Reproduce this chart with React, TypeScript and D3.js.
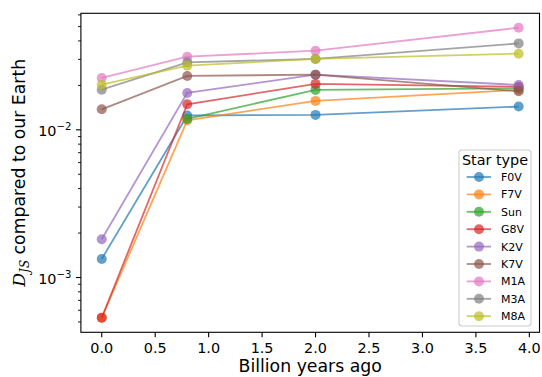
import React from "react";
import * as d3 from "d3";

const years = [0, 0.8, 2.0, 3.9];
const seriesNames = ["F0V", "F7V", "Sun", "G8V", "K2V", "K7V", "M1A", "M3A", "M8A"];
const F0V = [0.001336, 0.0125, 0.01262, 0.01437];
const F7V = [0.000534, 0.0116, 0.0157, 0.01864];
const Sun = [null, 0.01186, 0.01864, 0.0191];
const G8V = [0.000534, 0.0149, 0.02046, 0.0196];
const K2V = [0.001815, 0.01778, 0.02364, 0.02014];
const K7V = [0.01377, 0.02317, 0.02364, 0.01823];
const M1A = [0.02244, 0.03126, 0.03434, 0.0491];
const M3A = [0.0187, 0.02864, 0.0302, 0.03847];
const M8A = [0.0202, 0.02719, 0.0302, 0.03278];
const seriesValues: (number | null)[][] = [F0V, F7V, Sun, G8V, K2V, K7V, M1A, M3A, M8A];
const colors = ["#1f77b4", "#ff7f0e", "#2ca02c", "#d62728", "#9467bd", "#8c564b", "#e377c2", "#7f7f7f", "#bcbd22"];
const xTicks = [0, 0.5, 1.0, 1.5, 2.0, 2.5, 3.0, 3.5, 4.0];
const yMajor = [1e-3, 1e-2];
const yMajorExp = ["−3", "−2"];

const W = 542, H = 377;
const L = 80.9, R = 539.5, T = 13.3, B = 332.3;
const FONT = "DejaVu Sans, sans-serif";

export default function App() {
  const x = d3.scaleLinear().domain([-0.195, 4.095]).range([L, R]);
  const y = d3.scaleLog().domain([Math.pow(10, -3.371), Math.pow(10, -1.211)]).range([B, T]);
  const [y0, y1] = y.domain();
  const minor: number[] = [];
  for (let e = -4; e <= -1; e++) {
    for (let m = 2; m <= 9; m++) {
      const v = m * Math.pow(10, e);
      if (v >= y0 && v <= y1) minor.push(v);
    }
  }
  const line = d3
    .line<[number, number | null]>()
    .defined((d) => d[1] != null)
    .x((d) => x(d[0]))
    .y((d) => y(d[1] as number));

  const legX0 = 459, legX1 = 531, legY0 = 150, legY1 = 326;
  const rowY0 = 177, rowStep = 17.4;
  const alpha = 0.7;

  return (
    <svg width={W} height={H} style={{ position: "absolute", left: 0, top: 0 }} fontFamily={FONT}>
      <rect x={0} y={0} width={W} height={H} fill="#fff" />
      {/* data */}
      {seriesValues.map((vals, i) => {
        const pts = years.map((yr, j) => [yr, vals[j]] as [number, number | null]);
        return (
          <g key={seriesNames[i]}>
            <path d={line(pts) || ""} fill="none" stroke={colors[i]} strokeWidth={1.8} strokeOpacity={alpha} />
            {pts
              .filter((p) => p[1] != null)
              .map((p, j) => (
                <circle key={j} cx={x(p[0])} cy={y(p[1] as number)} r={5} fill={colors[i]} fillOpacity={alpha} />
              ))}
          </g>
        );
      })}
      {/* spines */}
      <rect x={L} y={T} width={R - L} height={B - T} fill="none" stroke="#000" strokeWidth={1.1} />
      {/* x ticks */}
      {xTicks.map((t) => (
        <g key={t}>
          <line x1={x(t)} x2={x(t)} y1={B} y2={B + 5} stroke="#000" strokeWidth={1.1} />
          <text x={x(t)} y={B + 20.5} fontSize={14.4} textAnchor="middle" fill="#000">
            {t.toFixed(1)}
          </text>
        </g>
      ))}
      {/* y ticks */}
      {minor.map((v) => (
        <line key={v} x1={L - 2.9} x2={L} y1={y(v)} y2={y(v)} stroke="#000" strokeWidth={0.9} />
      ))}
      {yMajor.map((v, i) => (
        <g key={v}>
          <line x1={L - 5} x2={L} y1={y(v)} y2={y(v)} stroke="#000" strokeWidth={1.1} />
          <text x={L - 9.5} y={y(v) + 6} fontSize={14.4} textAnchor="end" fill="#000">
            10
            <tspan fontSize={10.1} dy={-5.5}>{yMajorExp[i]}</tspan>
          </text>
        </g>
      ))}
      {/* axis labels */}
      <text x={(L + R) / 2} y={372} fontSize={17.3} textAnchor="middle" fill="#000">
        Billion years ago
      </text>
      <text transform={`translate(25,${(T + B) / 2}) rotate(-90)`} fontSize={17.3} textAnchor="middle" fill="#000">
        <tspan fontFamily="DejaVu Serif, serif" fontStyle="italic">D</tspan>
        <tspan fontSize={12} dy={3.5} fontFamily="DejaVu Serif, serif" fontStyle="italic">JS</tspan>
        <tspan dy={-3.5}> compared to our Earth</tspan>
      </text>
      {/* legend */}
      <rect x={legX0} y={legY0} width={legX1 - legX0} height={legY1 - legY0} rx={3} fill="#fff" fillOpacity={0.8} stroke="#cccccc" strokeWidth={1.1} />
      <text x={(legX0 + legX1) / 2} y={165} fontSize={14.4} textAnchor="middle" fill="#000">
        Star type
      </text>
      {seriesNames.map((n, i) => {
        const cy = rowY0 + i * rowStep;
        return (
          <g key={n}>
            <line x1={466.7} x2={491} y1={cy} y2={cy} stroke={colors[i]} strokeWidth={1.8} strokeOpacity={alpha} />
            <circle cx={479} cy={cy} r={5} fill={colors[i]} fillOpacity={alpha} />
            <text x={501} y={cy + 4} fontSize={11} fill="#000">
              {n}
            </text>
          </g>
        );
      })}
    </svg>
  );
}
